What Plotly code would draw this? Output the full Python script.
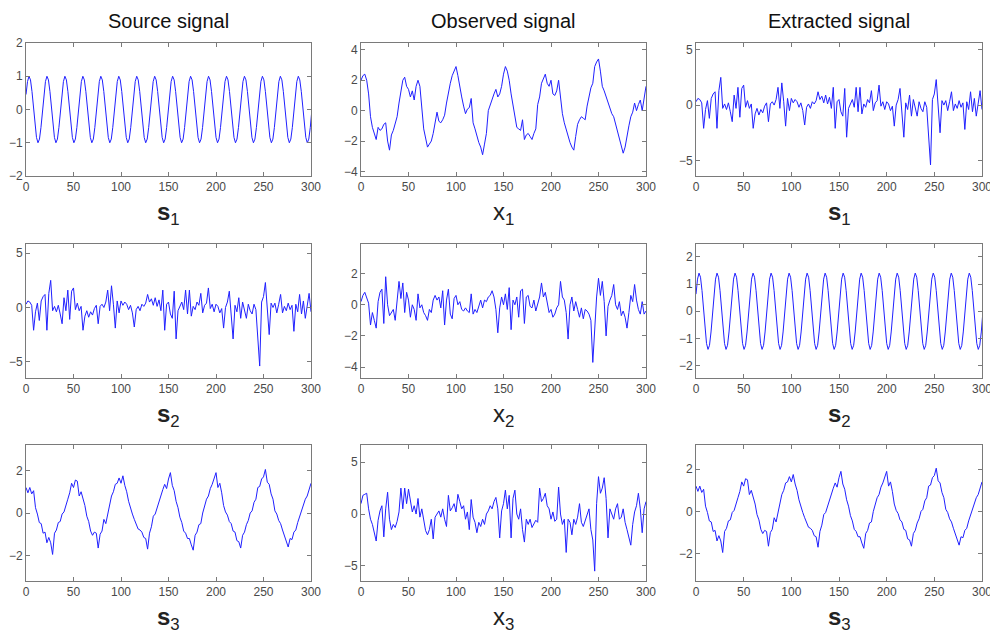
import numpy as np
import plotly.graph_objects as go

# ---------------- data ----------------
sine_dt = 1.575  # sampling interval of the pure-sine series
s1 = [
    0.45, 0.84, 1.00, 0.89, 0.54, 0.05, -0.45, -0.84, -1.00, -0.89, -0.54, -0.05,
    0.45, 0.84, 1.00, 0.89, 0.54, 0.05, -0.45, -0.84, -1.00, -0.89, -0.54, -0.05,
    0.45, 0.84, 1.00, 0.89, 0.54, 0.05, -0.45, -0.84, -1.00, -0.89, -0.54, -0.05,
    0.45, 0.84, 1.00, 0.89, 0.54, 0.05, -0.45, -0.84, -1.00, -0.89, -0.54, -0.05,
    0.45, 0.84, 1.00, 0.89, 0.54, 0.05, -0.45, -0.84, -1.00, -0.89, -0.54, -0.05,
    0.45, 0.84, 1.00, 0.89, 0.54, 0.05, -0.45, -0.84, -1.00, -0.89, -0.54, -0.05,
    0.45, 0.84, 1.00, 0.89, 0.54, 0.05, -0.45, -0.84, -1.00, -0.89, -0.54, -0.05,
    0.45, 0.84, 1.00, 0.89, 0.54, 0.05, -0.45, -0.84, -1.00, -0.89, -0.54, -0.05,
    0.45, 0.84, 1.00, 0.89, 0.54, 0.05, -0.45, -0.84, -1.00, -0.89, -0.54, -0.05,
    0.45, 0.84, 1.00, 0.89, 0.54, 0.05, -0.45, -0.84, -1.00, -0.89, -0.54, -0.05,
    0.45, 0.84, 1.00, 0.89, 0.54, 0.05, -0.45, -0.84, -1.00, -0.89, -0.54, -0.05,
    0.45, 0.84, 1.00, 0.89, 0.54, 0.05, -0.45, -0.84, -1.00, -0.89, -0.54, -0.05,
    0.45, 0.84, 1.00, 0.89, 0.54, 0.05, -0.45, -0.84, -1.00, -0.89, -0.54, -0.05,
    0.45, 0.84, 1.00, 0.89, 0.54, 0.05, -0.45, -0.84, -1.00, -0.89, -0.54, -0.05,
    0.45, 0.84, 1.00, 0.89, 0.54, 0.05, -0.45, -0.84, -1.00, -0.89, -0.54, -0.05,
    0.45, 0.84, 1.00, 0.89, 0.54, 0.05, -0.45, -0.84, -1.00, -0.89, -0.54, -0.05,
]
e2 = [
    0.63, 1.18, 1.40, 1.25, 0.76, 0.07, -0.63, -1.18, -1.40, -1.25, -0.76, -0.07,
    0.63, 1.18, 1.40, 1.25, 0.76, 0.07, -0.63, -1.18, -1.40, -1.25, -0.76, -0.07,
    0.63, 1.18, 1.40, 1.25, 0.76, 0.07, -0.63, -1.18, -1.40, -1.25, -0.76, -0.07,
    0.63, 1.18, 1.40, 1.25, 0.76, 0.07, -0.63, -1.18, -1.40, -1.25, -0.76, -0.07,
    0.63, 1.18, 1.40, 1.25, 0.76, 0.07, -0.63, -1.18, -1.40, -1.25, -0.76, -0.07,
    0.63, 1.18, 1.40, 1.25, 0.76, 0.07, -0.63, -1.18, -1.40, -1.25, -0.76, -0.07,
    0.63, 1.18, 1.40, 1.25, 0.76, 0.07, -0.63, -1.18, -1.40, -1.25, -0.76, -0.07,
    0.63, 1.18, 1.40, 1.25, 0.76, 0.07, -0.63, -1.18, -1.40, -1.25, -0.76, -0.07,
    0.63, 1.18, 1.40, 1.25, 0.76, 0.07, -0.63, -1.18, -1.40, -1.25, -0.76, -0.07,
    0.63, 1.18, 1.40, 1.25, 0.76, 0.07, -0.63, -1.18, -1.40, -1.25, -0.76, -0.07,
    0.63, 1.18, 1.40, 1.25, 0.76, 0.07, -0.63, -1.18, -1.40, -1.25, -0.76, -0.07,
    0.63, 1.18, 1.40, 1.25, 0.76, 0.07, -0.63, -1.18, -1.40, -1.25, -0.76, -0.07,
    0.63, 1.18, 1.40, 1.25, 0.76, 0.07, -0.63, -1.18, -1.40, -1.25, -0.76, -0.07,
    0.63, 1.18, 1.40, 1.25, 0.76, 0.07, -0.63, -1.18, -1.40, -1.25, -0.76, -0.07,
    0.63, 1.18, 1.40, 1.25, 0.76, 0.07, -0.63, -1.18, -1.40, -1.25, -0.76, -0.07,
    0.63, 1.18, 1.40, 1.25, 0.76, 0.07, -0.63, -1.18, -1.40, -1.25, -0.76, -0.07,
]

noise_dt = 2  # sampling interval of the noisy series (0..300)
s2 = [
    0.3, 0.6, 0.5, 0.2, -2.1, -0.4, 0.4, -1.2, 0.6, 1.0,
    1.2, -2.1, 1.3, 2.5, -0.3, 0.1, -0.4, 0.2, -0.6, -1.5,
    0.9, -0.3, 1.6, -1.1, 1.5, 1.8, -0.2, 0.4, -0.3, 0.1,
    -2.1, -0.8, -0.3, -0.9, -0.4, -0.7, -0.1, 0.2, -1.5, 0.1,
    0.3, 0.0, 0.5, 1.6, -0.3, 2.0, 0.3, -1.9, 0.6, -0.5,
    0.6, 0.2, 0.5, 0.3, -0.2, 0.2, -0.5, -1.8, -0.2, 0.1,
    -0.3, 0.3, 0.1, 0.4, 1.2, 0.5, 0.8, 0.2, 0.9, 0.1,
    0.7, -0.3, 1.6, -2.1, 0.3, 0.5, -0.6, -1.0, 1.5, -2.9,
    -0.3, 0.2, 0.5, -0.2, 1.6, -0.6, 1.6, -0.8, 0.1, -0.2,
    0.5, 0.2, 1.3, -0.5, 0.2, 0.4, 1.8, -0.1, 0.3, -0.4,
    0.3, 0.1, -0.5, -0.1, -1.9, 0.0, 0.5, 1.5, -0.5, -2.9,
    0.2, -0.4, 0.9, -1.0, 0.5, -0.2, -1.0, 0.3, -0.3, -0.6,
    0.3, -0.2, -2.9, -5.4, 0.5, 1.0, 2.3, -0.2, -2.5, 0.4,
    0.0, 0.4, -0.5, 0.3, 1.2, -0.5, 0.1, -0.3, 0.4, -0.2,
    0.2, -2.2, 0.3, -0.4, 1.2, -0.6, 0.6, -1.0, 0.2, 1.3,
    -0.4,
]
s3 = [
    1.2, 0.95, 1.2, 0.9, 1.05, 0.25, -0.05, -0.45, -0.5, -0.95,
    -0.9, -1.4, -1.15, -1.4, -1.95, -0.95, -0.8, -0.45, -0.4, -0.05,
    0.05, 0.4, 0.65, 0.95, 1.4, 1.2, 1.55, 1.5, 0.8, 1.0,
    0.65, 0.35, -0.15, -0.4, -0.85, -1.05, -0.9, -0.95, -1.65, -1.0,
    -0.85, -0.3, -0.5, -0.05, 0.35, 0.8, 1.0, 1.35, 1.4, 1.65,
    1.4, 1.75, 1.3, 1.0, 0.55, 0.2, -0.05, -0.3, -0.55, -0.75,
    -0.8, -0.9, -1.15, -1.2, -1.7, -0.95, -0.65, -0.15, -0.05, 0.25,
    0.55, 0.9, 1.1, 1.35, 1.15, 1.6, 1.9, 1.3, 1.05, 0.55,
    0.25, -0.2, -0.45, -0.85, -0.95, -1.2, -1.2, -1.5, -1.75, -1.05,
    -0.9, -0.55, -0.5, 0.0, 0.35, 0.65, 0.8, 1.15, 1.35, 1.6,
    1.9, 1.2, 1.4, 0.95, 0.35, 0.05, -0.1, -0.4, -0.5, -0.85,
    -0.9, -1.3, -1.35, -1.65, -1.05, -0.9, -0.55, -0.35, 0.0, 0.1,
    0.5, 0.65, 1.2, 1.25, 1.6, 1.7, 2.05, 1.45, 1.35, 0.9,
    0.65, 0.1, -0.05, -0.35, -0.5, -0.8, -1.1, -1.35, -1.6, -1.2,
    -1.25, -0.9, -0.8, -0.45, -0.15, 0.15, 0.45, 0.65, 0.8, 1.05,
    1.4,
]
x1 = [
    2.0, 2.3, 2.4, 2.0, 1.1, -0.4, -1.1, -1.6, -1.9, -1.1,
    -1.3, -1.2, -0.9, -0.8, -2.0, -2.6, -1.6, -1.3, -0.9, -0.4,
    0.5, 1.4, 2.0, 2.2, 1.6, 1.4, 0.9, 1.3, 0.7, 1.6,
    2.0, 1.6, 0.0, -1.2, -1.8, -2.4, -2.2, -2.0, -1.5, -0.9,
    -0.1, -0.7, -0.8, -0.6, -0.3, 0.5, 1.2, 1.8, 2.3, 2.6,
    2.9, 2.3, 1.5, 0.9, 0.3, -0.2, 0.1, 0.2, 0.8, -0.8,
    -1.2, -1.7, -2.1, -2.4, -2.9, -2.2, -1.5, 0.0, 0.4, 0.7,
    1.1, 1.4, 0.9, 1.1, 1.6, 2.4, 2.9, 2.6, 2.0, 1.1,
    0.3, -0.5, -1.1, -1.2, -1.3, -0.6, -1.9, -1.6, -1.5, -1.7,
    -1.9, -1.5, -1.2, 0.4, 0.9, 1.8, 2.1, 2.4, 1.8, 1.6,
    2.0, 1.1, 1.0, 1.3, 2.0, 0.7, -0.2, -0.8, -1.3, -1.8,
    -2.1, -2.4, -2.6, -1.7, -0.9, -0.6, -0.4, -0.5, -0.6, 0.3,
    0.9, 1.5, 1.8, 2.9, 3.2, 3.4, 2.6, 1.6, 1.3, 0.9,
    0.6, 0.2, -0.2, -0.4, -0.9, -1.3, -2.0, -2.5, -2.8, -2.4,
    -1.6, -1.0, -0.4, -0.1, 0.5, 0.0, 0.4, 0.7, 0.0, 0.9,
    1.6,
]
x2 = [
    0.2, 0.6, 0.8, 0.5, 0.1, -1.3, -0.5, -1.0, -1.5, 0.2,
    0.8, 1.0, -1.2, 1.8, 0.0, -0.7, -0.5, -0.3, -1.0, 0.2,
    1.5, 0.4, 1.4, -0.5, 0.8, 0.3, -0.8, 0.0, -0.3, -1.0,
    0.7, -0.2, 0.0, -0.5, -0.7, -1.0, -0.3, -0.5, 0.3, 0.6,
    0.3, 0.5, -0.2, 0.9, -1.3, 0.3, 1.0, -0.6, -0.9, 0.4,
    0.6, 0.0, 0.2, -0.3, -0.4, -0.2, -0.4, -0.5, 0.7, -0.6,
    -0.3, -0.5, 0.0, 0.3, -0.2, 0.3, 0.2, 0.5, 0.6, 0.9,
    0.5, -0.3, -1.8, -0.2, 0.5, 0.0, 0.7, -0.3, 1.1, -1.6,
    0.3, 0.0, 0.5, -0.8, 0.9, 1.0, -1.2, 0.5, 0.6, -0.1,
    -0.2, 0.3, -0.4, 0.0, 0.5, 1.4, 0.5, 0.8, 0.2, -0.5,
    -0.3, -0.8, -0.6, -0.2, 0.0, 1.5, 0.5, 0.3, -0.5, -2.2,
    0.0, 0.5, -0.4, 0.2, -0.3, -0.8, -0.2, -0.9, -0.3, -0.4,
    -0.6, -1.0, -3.7, -1.5, 0.5, 1.7, 0.6, 1.5, 0.2, -2.0,
    -0.1, 0.3, 0.6, 1.3, 0.0, -0.3, 0.2, -0.7, -0.4, -0.8,
    -1.5, -0.5, 0.6, 0.2, 1.3, 0.3, -0.3, -0.6, 0.2, -0.6,
    -0.4,
]
x3 = [
    1.0, 1.8, 1.9, 2.0, 0.5, -0.5, -1.0, -1.8, -2.6, -0.6,
    0.3, 0.8, -2.2, 0.5, 2.1, -0.5, -1.5, -1.0, -1.3, -0.7,
    0.2, 2.5, 0.5, 2.5, 1.0, 2.4, 1.2, 0.2, 0.8, 0.0,
    1.5, -0.3, 0.5, -0.8, -1.6, -2.0, -1.5, -0.5, -2.4, -0.3,
    0.0, 0.3, -0.3, 0.5, -0.5, -1.2, 1.8, 0.3, 0.6, 1.0,
    0.2, 1.9, 1.2, 0.5, 0.8, -0.5, 0.2, -1.5, 1.4, -0.3,
    -0.8, -1.8, -0.8, -1.2, -0.5, -1.0, 0.0, 0.3, 0.8, 0.5,
    1.2, 1.6, 0.5, -2.3, 0.3, 1.0, 2.3, 0.5, 1.8, -2.3,
    1.5, 2.3, 0.0, -0.5, 0.5, -1.5, -2.7, -0.5, -1.0, -0.5,
    -1.3, -1.0, -0.6, -0.8, 2.5, 1.2, 1.5, 2.0, 0.8, 0.5,
    -0.5, 0.2, -0.7, -0.5, 2.6, 0.0, -1.0, -0.5, -3.7, -0.5,
    -0.8, -2.0, -0.5, -1.0, -0.3, 1.0, -0.8, -1.2, -0.6, 0.0,
    0.5, -1.5, -2.5, -5.5, 1.0, 3.6, 2.0, 2.5, 3.5, 1.5,
    -2.3, 0.5, 0.0, -0.5, 0.5, 1.0, -0.5, -0.3, 0.5, -0.8,
    -1.5, -2.2, -3.0, -1.0, 0.2, 0.8, 2.0, 0.5, -1.8, 0.5,
    1.2,
]
# extracted signals 1 and 3 look identical to sources 2 and 3
e1 = s2
e3 = s3

column_titles = ["Source signal", "Observed signal", "Extracted signal"]
panel_series = [s1, x1, e1, s2, x2, e2, s3, x3, e3]
panel_dt = [sine_dt, noise_dt, noise_dt, noise_dt, noise_dt, sine_dt, noise_dt, noise_dt, noise_dt]
panel_labels = ["<b>s</b><sub>1</sub>", "x<sub>1</sub>", "<b>s</b><sub>1</sub>",
                "<b>s</b><sub>2</sub>", "x<sub>2</sub>", "<b>s</b><sub>2</sub>",
                "<b>s</b><sub>3</sub>", "x<sub>3</sub>", "<b>s</b><sub>3</sub>"]
y_ranges = [[-2, 2], [-4.3, 4.45], [-6.4, 5.6],
            [-6.5, 5.85], [-4.7, 3.9], [-2.45, 2.47],
            [-3.2, 3.2], [-6.45, 6.65], [-3.3, 3.15]]
y_ticks = [[-2, -1, 0, 1, 2], [-4, -2, 0, 2, 4], [-5, 0, 5],
           [-5, 0, 5], [-4, -2, 0, 2], [-2, -1, 0, 1, 2],
           [-2, 0, 2], [-5, 0, 5], [-2, 0, 2]]
x_ticks = [0, 50, 100, 150, 200, 250, 300]

# ---------------- layout geometry ----------------
W, H = 990, 637
col_px = [(26, 311), (361, 646), (696, 982)]
row_px = [(43, 176), (244, 378), (445, 581)]

fig = go.Figure()
frame_color = "#7a7a7a"
tick_font = dict(family="Liberation Sans, Arial, sans-serif", size=12, color="#4a4a4a")

layout = dict(width=W, height=H, margin=dict(l=0, r=0, t=0, b=0, autoexpand=False),
              autosize=False,
              paper_bgcolor="white", plot_bgcolor="white", showlegend=False,
              annotations=[])

for i, (vals, dt) in enumerate(zip(panel_series, panel_dt)):
    r, c = divmod(i, 3)
    n = i + 1
    xs = np.arange(len(vals)) * dt
    fig.add_trace(go.Scatter(x=xs, y=vals, mode="lines",
                             line=dict(color="#2020ff", width=1),
                             xaxis=f"x{n}", yaxis=f"y{n}", hoverinfo="skip"))
    x0, x1p = col_px[c]
    y0, y1p = row_px[r]
    common = dict(showline=True, linecolor=frame_color, linewidth=1, mirror="ticks",
                  ticks="inside", ticklen=4, tickcolor=frame_color, showgrid=False,
                  zeroline=False, tickfont=tick_font, fixedrange=True, automargin=False,
                  ticklabeloverflow="allow")
    layout[f"xaxis{n}"] = dict(domain=[x0 / W, x1p / W], range=[0, 300],
                               tickvals=x_ticks, anchor=f"y{n}", **common)
    layout[f"yaxis{n}"] = dict(domain=[1 - y1p / H, 1 - y0 / H], range=y_ranges[i],
                               tickvals=y_ticks[i], anchor=f"x{n}", **common)
    layout["annotations"].append(dict(
        text=panel_labels[i], xref="paper", yref="paper",
        x=(x0 + x1p) / 2 / W, y=1 - (y1p + 37) / H, xanchor="center", yanchor="middle",
        showarrow=False, font=dict(family="Liberation Sans, Arial, sans-serif", size=24, color="#222")))

for c, title in enumerate(column_titles):
    x0, x1p = col_px[c]
    layout["annotations"].append(dict(
        text=title, xref="paper", yref="paper", x=(x0 + x1p) / 2 / W, y=1 - 21 / H,
        xanchor="center", yanchor="middle", showarrow=False,
        font=dict(family="Liberation Sans, Arial, sans-serif", size=20, color="#111")))

fig.update_layout(**layout)
fig.write_html("out.html", config={"displayModeBar": False},
               post_script="document.body.style.margin='0px';")
